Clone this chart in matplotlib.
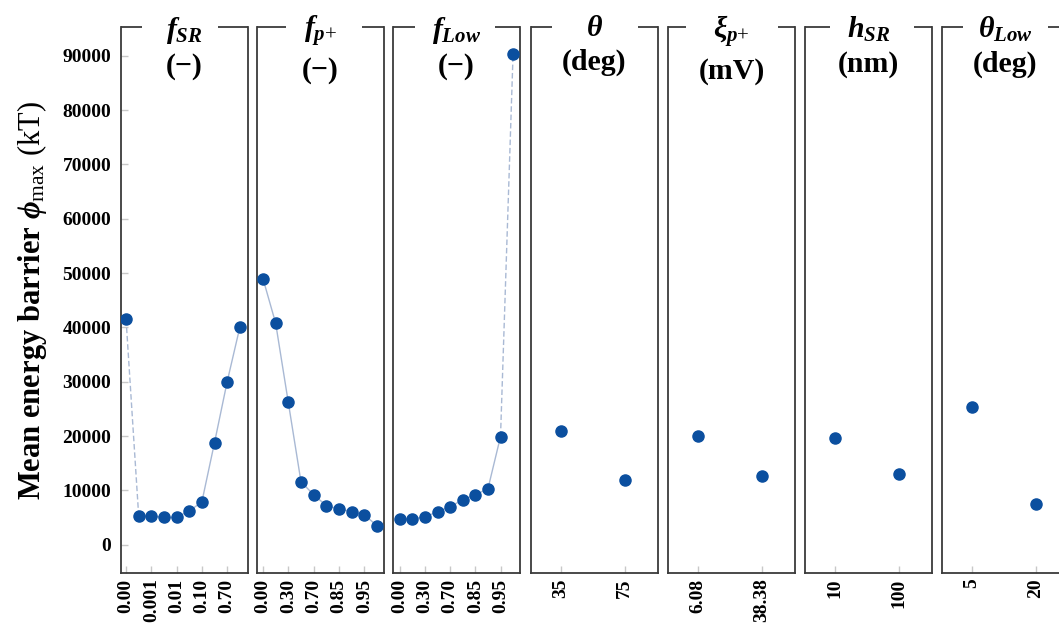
import matplotlib
matplotlib.use("Agg")
import matplotlib.pyplot as plt
from matplotlib.lines import Line2D
import numpy as np

plt.rcParams['font.family'] = ['Liberation Serif', 'DejaVu Serif']
plt.rcParams['mathtext.fontset'] = 'custom'
plt.rcParams['mathtext.rm'] = 'Liberation Serif'
plt.rcParams['mathtext.it'] = 'Liberation Serif:italic:bold'
plt.rcParams['mathtext.bf'] = 'Liberation Serif:bold'

# ---------------- data ----------------
titles = [r"$f_{SR}$" + "\n(−)", r"$f_{p{+}}$" + "\n(−)", r"$f_{Low}$" + "\n(−)",
          r"$\theta$" + "\n(deg)", r"$\xi_{p{+}}$" + "\n(mV)", r"$h_{SR}$" + "\n(nm)",
          r"$\theta_{Low}$" + "\n(deg)"]

f_sr_vals = [41500, 5300, 5200, 5100, 5100, 6200, 7900, 18800, 30000, 40000]
f_sr_ticks = ['0.00', '0.001', '0.01', '0.10', '0.70']

f_p_vals = [49000, 40800, 26200, 11600, 9200, 7200, 6600, 6100, 5500, 3500]
f_p_ticks = ['0.00', '0.30', '0.70', '0.85', '0.95']

f_low_vals = [4700, 4800, 5100, 6100, 7000, 8300, 9200, 10300, 19900, 90400]
f_low_ticks = ['0.00', '0.30', '0.70', '0.85', '0.95']

theta_vals = [20900, 11900]
theta_ticks = ['35', '75']

xi_vals = [20000, 12700]
xi_ticks = ['6.08', '38.38']

h_vals = [19600, 13100]
h_ticks = ['10', '100']

theta_low_vals = [25300, 7500]
theta_low_ticks = ['5', '20']

y_ticks = [0, 10000, 20000, 30000, 40000, 50000, 60000, 70000, 80000, 90000]

panels = [
    (f_sr_vals, f_sr_ticks, [(0, 1)]),
    (f_p_vals, f_p_ticks, []),
    (f_low_vals, f_low_ticks, [(8, 9)]),
    (theta_vals, theta_ticks, None),
    (xi_vals, xi_ticks, None),
    (h_vals, h_ticks, None),
    (theta_low_vals, theta_low_ticks, None),
]

# ---------------- layout ----------------
W, H = 1059, 624
fig = plt.figure(figsize=(W / 100, H / 100), dpi=100)

lefts = [121, 257, 393, 531, 668, 805, 942]
pw = 127
top, bottom = 27, 573
gaps = [(142, 218), (286, 362), (415, 495), (552, 638), (686, 778), (830, 914), (963, 1048)]
xlims = [(-0.4, 9.65), (-0.47, 9.55), (-0.55, 9.55),
         (-0.47, 1.52), (-0.47, 1.52), (-0.47, 1.52), (-0.47, 1.52)]

marker_color = '#0b4f9f'
line_color = '#a9b9d4'
spine_color = '#3a3a3a'

for i, ((vals, ticks, dashed), L) in enumerate(zip(panels, lefts)):
    ax = fig.add_axes([L / W, 1 - bottom / H, pw / W, (bottom - top) / H])
    x = np.arange(len(vals))
    v = np.array(vals, dtype=float)
    if dashed is not None:
        dset = set(dashed)
        for k in range(len(vals) - 1):
            ls = (0, (4, 2)) if (k, k + 1) in dset else '-'
            ax.plot(x[k:k + 2], v[k:k + 2], color=line_color, lw=1.0, ls=ls, zorder=2)
    ax.plot(x, v, ls='none', marker='o', ms=8, color=marker_color, zorder=3)
    ax.set_xlim(*xlims[i])
    ax.set_ylim(-5200, 95300)

    if len(vals) > 2:
        tpos = list(range(0, len(vals), 2))[:len(ticks)]
    else:
        tpos = [0, 1]
    ax.set_xticks(tpos)
    ax.set_xticklabels(ticks, rotation=90, fontsize=14, fontweight='bold', va='top')
    ax.tick_params(axis='x', direction='in', length=5, color='#c8c8c8', width=1, pad=4)

    ax.set_yticks(y_ticks)
    if i == 0:
        ax.set_yticklabels([str(t) for t in y_ticks], fontsize=14, fontweight='bold')
        ax.tick_params(axis='y', direction='in', length=5, color='#c8c8c8', width=1, pad=7)
    else:
        ax.tick_params(axis='y', left=False, labelleft=False)

    for s in ['left', 'right', 'bottom']:
        ax.spines[s].set_color(spine_color)
        ax.spines[s].set_linewidth(1.3)
    ax.spines['top'].set_visible(False)
    g0, g1 = gaps[i]
    for xa, xb in [(0, (g0 - L) / pw), ((g1 - L) / pw, 1.0)]:
        ax.add_line(Line2D([xa, xb], [1.0, 1.0], transform=ax.transAxes, color=spine_color,
                           lw=1.3, clip_on=False, solid_capstyle='butt'))

    ax.annotate(titles[i], xy=(0.5, 1.0), xycoords='axes fraction',
                xytext=(0, 9), textcoords='offset points', ha='center', va='top',
                fontsize=21.5, fontweight='bold', linespacing=1.35, annotation_clip=False)

fig.text(32 / W, 1 - 300 / H,
         r"$\mathbf{Mean\ energy\ barrier}\ \phi_{\mathrm{max}}\ \mathrm{(kT)}$",
         rotation=90, ha='center', va='center', fontsize=22)

fig.savefig('out.png', dpi=100)
